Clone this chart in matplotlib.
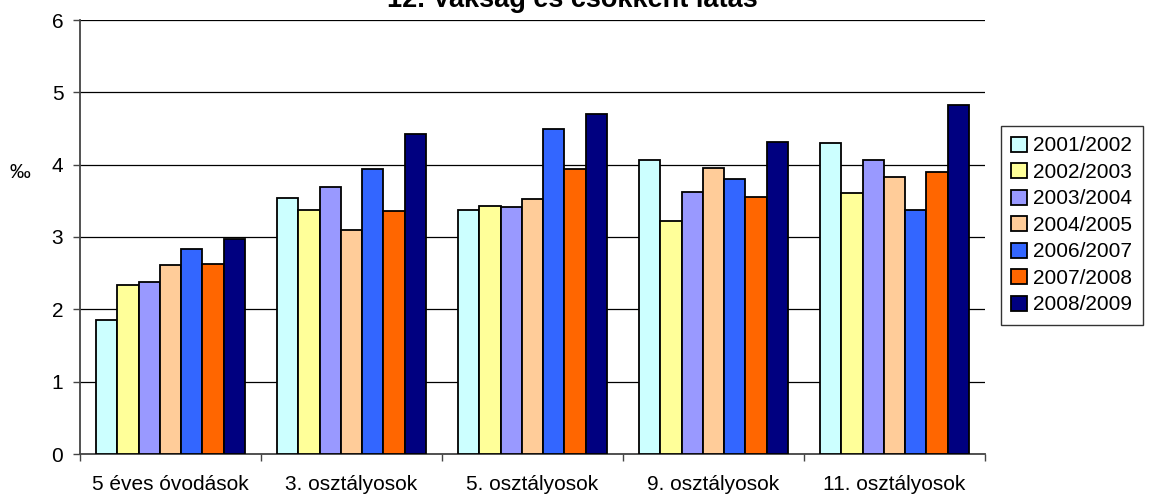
import numpy as np
import matplotlib
matplotlib.use("Agg")
import matplotlib.pyplot as plt

plt.rcParams['font.family'] = ['Liberation Sans', 'DejaVu Sans']

categories = ['5 éves óvodások', '3. osztályosok', '5. osztályosok',
              '9. osztályosok', '11. osztályosok']
years = ['2001/2002', '2002/2003', '2003/2004', '2004/2005',
         '2006/2007', '2007/2008', '2008/2009']
values = [
    [1.85, 3.54, 3.38, 4.07, 4.30],
    [2.34, 3.37, 3.43, 3.22, 3.61],
    [2.38, 3.69, 3.42, 3.62, 4.07],
    [2.61, 3.10, 3.53, 3.95, 3.83],
    [2.84, 3.94, 4.50, 3.80, 3.37],
    [2.63, 3.36, 3.94, 3.55, 3.90],
    [2.97, 4.43, 4.70, 4.32, 4.83],
]
colors = ['#CCFFFF', '#FFFF99', '#9999FF', '#FFCC99',
          '#3366FF', '#FF6600', '#000080']

W, H = 1158, 501
fig = plt.figure(figsize=(W/100, H/100), dpi=100)
ax = fig.add_axes([80/W, 1-454/H, 905/W, 434/H])

n = len(years)
bw = 1.0/(n+1.5)
x = np.arange(len(categories))
for i in range(n):
    off = (i - (n-1)/2.0)*bw
    ax.bar(x + 0.5 + off, values[i], bw, color=colors[i], edgecolor='black',
           linewidth=1.3, label=years[i], zorder=3)

ax.set_xlim(0, len(categories))
ax.set_ylim(0, 6)
ax.set_yticks(range(0, 7))
ax.yaxis.grid(True, color='black', linewidth=0.9, zorder=0)
ax.set_xticks(range(0, len(categories)+1))
ax.set_xticklabels([])
ax.set_xticks(x + 0.5, minor=True)
ax.set_xticklabels(categories, minor=True)
ax.tick_params(axis='x', which='minor', length=0, pad=15, labelsize=15)
ax.tick_params(axis='x', which='major', length=5, width=1, color='#444444', direction='out')
ax.tick_params(axis='y', length=5, width=1, color='#444444', labelsize=15, pad=7)
for s in ['top', 'right']:
    ax.spines[s].set_visible(False)
for s in ['left', 'bottom']:
    ax.spines[s].set_color('#444444')
    ax.spines[s].set_linewidth(1.3)

fig.text(20/W, 1-172/H, '‰', fontsize=15, ha='center', va='center')
fig.text(572/W, 1-7/H, '12. Vakság és csökkent látás', fontsize=19.5,
         fontweight='bold', ha='center', va='baseline')

leg = ax.legend(loc='upper left', bbox_to_anchor=(1001/W, 1-126/H),
                bbox_transform=fig.transFigure, fontsize=15, frameon=True,
                fancybox=False, edgecolor='black', handlelength=0.75,
                handleheight=0.75, handletextpad=0.3, labelspacing=0.36,
                borderpad=0.5, borderaxespad=0)
leg.get_frame().set_linewidth(1)

fig.savefig('out.png', dpi=100)
